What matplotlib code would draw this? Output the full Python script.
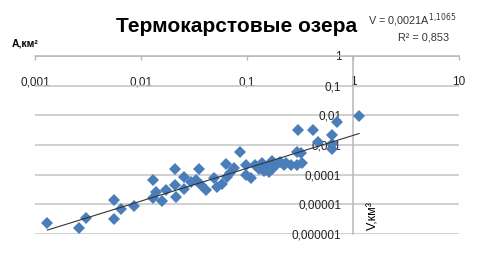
import matplotlib
matplotlib.use("Agg")
import matplotlib.pyplot as plt
from matplotlib.ticker import FixedLocator, FixedFormatter, NullLocator
import numpy as np

# lake area, km2 and volume, km3
area = [0.00131, 0.00259, 0.00303, 0.00562, 0.00562, 0.0065, 0.00863,
        0.0129, 0.0129, 0.0139, 0.0158, 0.0173, 0.0211, 0.0211, 0.0213,
        0.0252, 0.0252, 0.0295, 0.033, 0.035, 0.0367, 0.0406, 0.0485,
        0.0518, 0.0582, 0.0635, 0.065, 0.0698, 0.0753, 0.0859, 0.0968,
        0.0968, 0.108, 0.120, 0.139, 0.146, 0.158, 0.173, 0.172, 0.188,
        0.203, 0.231, 0.258, 0.298, 0.298, 0.302, 0.325, 0.333, 0.423,
        0.468, 0.63, 0.63, 0.63, 0.701, 1.14, 0.129, 0.221, 0.16]
volume = [2.26e-6, 1.57e-6, 3.52e-6, 1.35e-5, 3.13e-6, 6.97e-6, 8.6e-6,
          6.47e-5, 1.6e-5, 2.51e-5, 1.27e-5, 3.05e-5, 1.55e-4, 4.49e-5, 1.73e-5,
          8.55e-5, 3.34e-5, 5.8e-5, 6.62e-5, 1.59e-4, 4.49e-5, 3.05e-5, 7.73e-5,
          3.94e-5, 4.85e-5, 2.34e-4, 8.55e-5, 1.14e-4, 1.64e-4, 5.9e-4, 2.12e-4,
          9.75e-5, 7.73e-5, 2.12e-4, 2.42e-4, 1.33e-4, 1.86e-4, 2.89e-4, 1.5e-4, 2.2e-4,
          2.74e-4, 2.57e-4, 2.12e-4, 2.12e-4, 5.6e-4, 3.33e-3, 5.17e-4, 2.48e-4, 3.33e-3,
          1.29e-3, 2.17e-3, 1.08e-3, 7.17e-4, 6.1e-3, 9.28e-3, 1.55e-4, 2.12e-4, 1.23e-4]

# power trend shown on the chart
coef = 0.0021
expo = 1.1065
r2 = 0.853

x_ticks = [0.001, 0.01, 0.1, 1, 10]
x_labels = ["0,001", "0,01", "0,1", "1", "10"]
y_ticks = [1e-6, 1e-5, 1e-4, 1e-3, 1e-2, 1e-1, 1]
y_labels = ["0,000001", "0,00001", "0,0001", "0,001", "0,01", "0,1", "1"]

plt.rcParams["font.family"] = ["Liberation Sans", "DejaVu Sans"]

W, H = 481, 269
fig = plt.figure(figsize=(W / 100, H / 100), dpi=100)
ax = fig.add_axes([35 / W, 1 - 234 / H, 424 / W, 178 / H])
ax.set_xscale("log")
ax.set_yscale("log")
ax.set_xlim(0.001, 10)
ax.set_ylim(1e-6, 1)

ax.yaxis.grid(True, color="#c4c4c4", linewidth=1.1)
ax.set_axisbelow(True)

ax.plot(area, volume, linestyle="none", marker="D", markersize=6.5,
        color="#4a7ebb", markeredgewidth=0, zorder=3)

# trend line over the data range
xs = np.logspace(np.log10(min(area)), np.log10(max(area)), 50)
ax.plot(xs, coef * xs ** expo, color="#333333", linewidth=0.8, zorder=4)

for s in ["top", "right"]:
    ax.spines[s].set_visible(False)
ax.spines["bottom"].set_position(("data", 1))
ax.spines["left"].set_position(("data", 1))
for s in ["bottom", "left"]:
    ax.spines[s].set_color("#b8b8b8")
    ax.spines[s].set_linewidth(1.1)

ax.xaxis.set_major_locator(FixedLocator(x_ticks))
ax.xaxis.set_major_formatter(FixedFormatter(x_labels))
ax.xaxis.set_minor_locator(NullLocator())
ax.yaxis.set_major_locator(FixedLocator(y_ticks))
ax.yaxis.set_major_formatter(FixedFormatter(y_labels))
ax.yaxis.set_minor_locator(NullLocator())
ax.tick_params(axis="x", direction="out", length=3, width=1, color="#b8b8b8",
               pad=11.5, labelsize=8.5, labelcolor="#222222")
ax.tick_params(axis="y", length=0, pad=8.5, labelsize=8.5, labelcolor="#222222")

fig.text(237 / W, 1 - 27 / H, "Термокарстовые озера", ha="center", va="center",
         fontsize=15, fontweight="bold")
fig.text(12 / W, 1 - 43 / H, "A,км²", ha="left", va="center", fontsize=7.5,
         fontweight="bold")
fig.text(373 / W, 1 - 216 / H, "V,км³", ha="center", va="center", fontsize=9,
         rotation=90)
coef_txt = f"{coef:.4f}".replace(".", ",")
expo_txt = f"{expo:.4f}".replace(".", "{,}")
fig.text(412 / W, 1 - 20 / H, f"V = {coef_txt}A$^{{{expo_txt}}}$",
         ha="center", va="center", fontsize=7.8, color="#333333")
fig.text(424 / W, 1 - 37 / H, f"R² = {r2:.3f}".replace(".", ","), ha="center",
         va="center", fontsize=7.8, color="#333333")

fig.savefig("out.png", dpi=100)
